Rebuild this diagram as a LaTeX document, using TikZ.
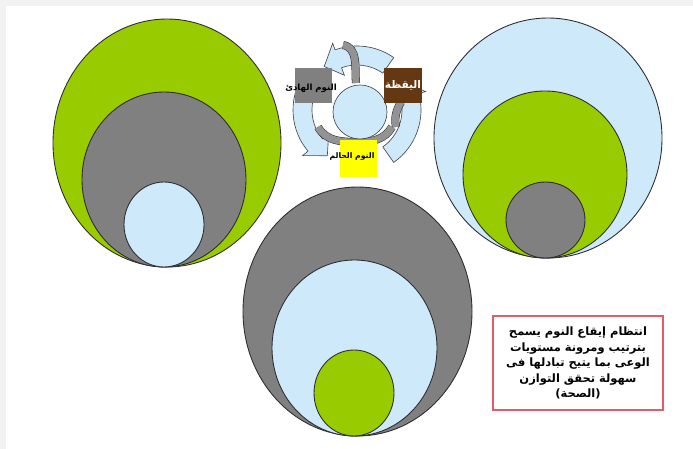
\documentclass[tikz,border=0pt]{standalone}
\usepackage{fontspec}
\usepackage{tikz}
\TeXXeTstate=1
\newfontfamily\arabicfont[Script=Arabic]{DejaVu Sans}
\definecolor{figG}{RGB}{153,204,0}
\definecolor{figK}{RGB}{128,128,128}
\definecolor{figL}{RGB}{205,233,250}
\definecolor{figBr}{RGB}{99,56,19}
\definecolor{figY}{RGB}{255,255,0}
\definecolor{figR}{RGB}{228,92,104}
\definecolor{figE}{RGB}{45,45,50}
\tikzset{lvl/.style={draw=figE, line width=0.75pt},
  ringarr/.style={draw=figE!85!figL, line width=0.55pt, fill=figL},
  twist/.style={draw=figE, line width=0.45pt, double=figK!85, double distance=6pt},
  tagbox/.style={minimum width=1.12cm, minimum height=1.05cm, inner sep=0pt},
  artext/.style 2 args={font=\arabicfont\bfseries\fontsize{#1}{#2}\selectfont}}

\begin{document}
\begin{tikzpicture}[x=0.03cm, y=0.03cm]
  \useasboundingbox (0,0) rectangle (693,449);
  \fill[black!5] (0,0) rectangle (693,449);
  \fill[white] (6,0) rectangle (693,443);
  % left group
  \draw[lvl, fill=figG] (167,306) ellipse [x radius=114, y radius=124];
  \draw[lvl, fill=figK] (164,269.5) ellipse [x radius=82, y radius=87.5];
  \draw[lvl, fill=figL] (164,224.5) ellipse [x radius=40, y radius=42.5];
  % right group
  \draw[lvl, fill=figL] (548,311) ellipse [x radius=114, y radius=120];
  \draw[lvl, fill=figG] (545,274.5) ellipse [x radius=82, y radius=83.5];
  \draw[lvl, fill=figK] (545.5,229) ellipse [x radius=39.5, y radius=38];
  % bottom group
  \draw[lvl, fill=figK] (357.5,137.5) ellipse [x radius=114.5, y radius=124.5];
  \draw[lvl, fill=figL] (354.5,101) ellipse [x radius=82.5, y radius=88];
  \draw[lvl, fill=figG] (354,56) ellipse [x radius=40, y radius=43];
  % cycle
  \begin{scope}[shift={(357,339)}]
    \foreach \a/\b in {55/127, 150/237, 305/392}{
      \pgfmathsetmacro{\hd}{\b-17}
      \draw[ringarr] (\a:64) arc[start angle=\a, end angle=\hd, radius=64]
        -- (\hd:71) -- (\b:54.5) -- (\hd:37) -- (\hd:45)
        arc[start angle=\hd, end angle=\a, radius=45] -- cycle;
    }
  \end{scope}
  \draw[twist] (343,404) to[out=-10, in=95] (356,366);
  \draw[twist] (401,347) to[out=-120, in=100] (396,322);
  \draw[twist] (392,322) to[out=-120, in=0] (358,307) to[out=180, in=-60] (318,322);
  \draw[ringarr] (360,337) circle [radius=27];
  \node[tagbox, fill=figK] (calm) at (313.5,363.5) {};
  \node[tagbox, fill=figBr] (wake) at (403,363) {};
  \node[tagbox, fill=figY, minimum height=1.11cm] (dream) at (358.5,290.5) {};
  \node[artext={7.3}{8}] (calmtxt) at (311,361) {\beginR النوم  الهادئ\endR};
  \node[artext={9}{10}, text=white] (waketxt) at (403,364) {\beginR اليقظة\endR};
  \node[artext={6.6}{8}] (dreamtxt) at (352,292) {\beginR النوم الحالم\endR};
  % note
  \node[draw=figR, line width=0.9pt, fill=white, minimum width=5.1cm,
    minimum height=2.82cm, align=center, artext={9.8}{13.2}] (note) at (578,86)
    {\beginR انتظام إيقاع النوم يسمح\endR\\
     \beginR بترتيب ومرونة مستويات\endR\\
     \beginR الوعى بما يتيح تبادلها فى\endR\\
     \beginR سهولة تحقق التوازن\endR\\
     \beginR (الصحة)\endR};
\end{tikzpicture}
\end{document}
